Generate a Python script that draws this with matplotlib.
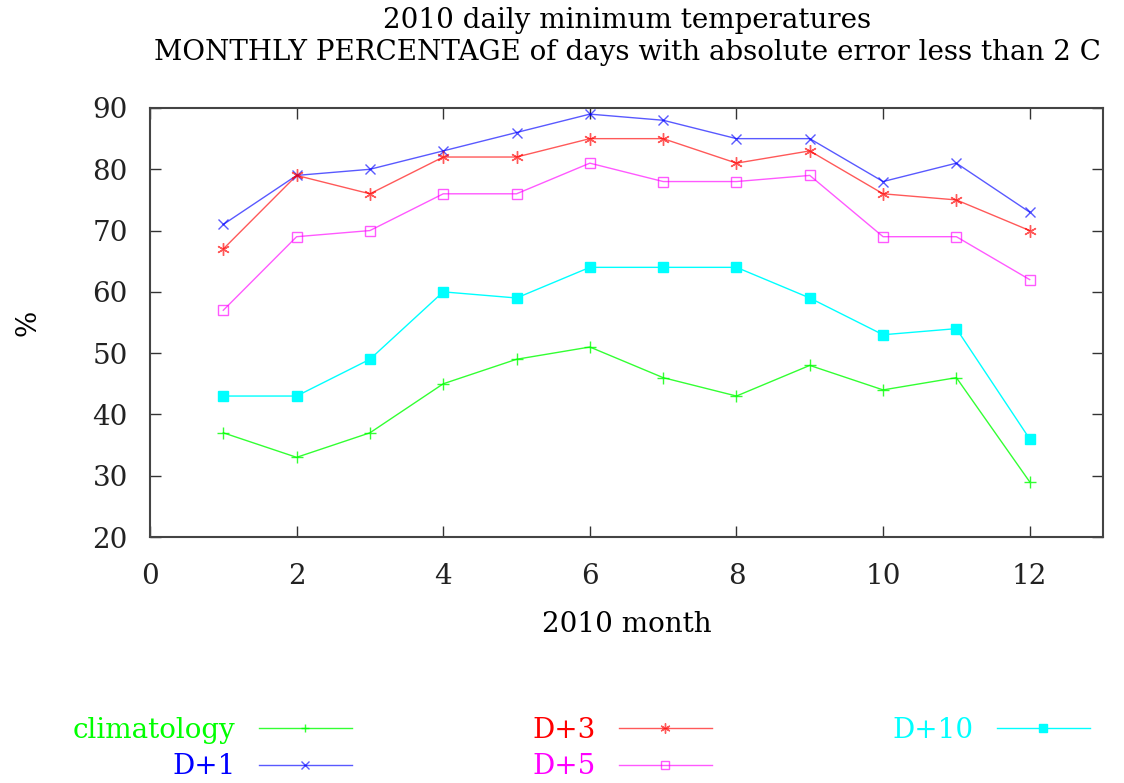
import matplotlib.pyplot as plt

months = [1, 2, 3, 4, 5, 6, 7, 8, 9, 10, 11, 12]
climatology = [37, 33, 37, 45, 49, 51, 46, 43, 48, 44, 46, 29]
d1 = [71, 79, 80, 83, 86, 89, 88, 85, 85, 78, 81, 73]
d3 = [67, 79, 76, 82, 82, 85, 85, 81, 83, 76, 75, 70]
d5 = [57, 69, 70, 76, 76, 81, 78, 78, 79, 69, 69, 62]
d10 = [43, 43, 49, 60, 59, 64, 64, 64, 59, 53, 54, 36]

plt.rcParams['font.family'] = ['DejaVu Serif']
plt.rcParams['font.size'] = 20

fig = plt.figure(figsize=(11.24, 7.83), dpi=100)
ax = fig.add_axes([150 / 1124, 1 - 537 / 783, 953 / 1124, 429 / 783])

ax.plot(months, climatology, color='#00ff00', lw=1, marker='+', ms=8, label='climatology', alpha=0.8)
ax.plot(months, d1, color='#0000ff', lw=1, marker='x', ms=7, label='D+1', alpha=0.65)
ax.plot(months, d3, color='#ff0000', lw=1, marker=(6, 2, 0), ms=9, label='D+3', alpha=0.65)
ax.plot(months, d5, color='#ff00ff', lw=1, marker='s', ms=7, mfc='none', label='D+5', alpha=0.65)
ax.plot(months, d10, color='#00ffff', lw=1, marker='s', ms=7, label='D+10')

ax.set_xlim(0, 13)
ax.set_ylim(20, 90)
ax.set_xticks([0, 2, 4, 6, 8, 10, 12])
ax.set_yticks([20, 30, 40, 50, 60, 70, 80, 90])
ax.tick_params(axis='y', direction='in', length=8, width=1, right=True, pad=16, colors='#333333',
               labelcolor='#222222')
ax.tick_params(axis='x', direction='in', length=8, width=1, top=True, pad=19, colors='#333333',
               labelcolor='#222222')
for s in ax.spines.values():
    s.set_linewidth(1.5)
    s.set_color('#444444')

fig.text(627 / 1124, 1 - 20 / 783, '2010 daily minimum temperatures', ha='center', va='center')
fig.text(627 / 1124, 1 - 53 / 783,
         'MONTHLY PERCENTAGE of days with absolute error less than 2 C', ha='center', va='center')
fig.text(627 / 1124, 1 - 625 / 783, '2010 month', ha='center', va='center')
fig.text(28 / 1124, 1 - 323 / 783, '%', rotation=90, ha='center', va='center')

colors = ['#00ff00', '#0000ff', '#ff0000', '#ff00ff', '#00ffff']
leg = ax.legend(loc='upper left', bbox_to_anchor=(73 / 1124, 1 - 717 / 783),
                bbox_transform=fig.transFigure, borderaxespad=0, borderpad=0,
                ncol=3, markerfirst=False, frameon=False, handlelength=3.35,
                columnspacing=6.5, handletextpad=0.83, labelspacing=0.34, fontsize=20,
                markerscale=0.8)
for t, c in zip(leg.get_texts(), colors):
    t.set_color(c)

fig.savefig('out.png', dpi=100)
